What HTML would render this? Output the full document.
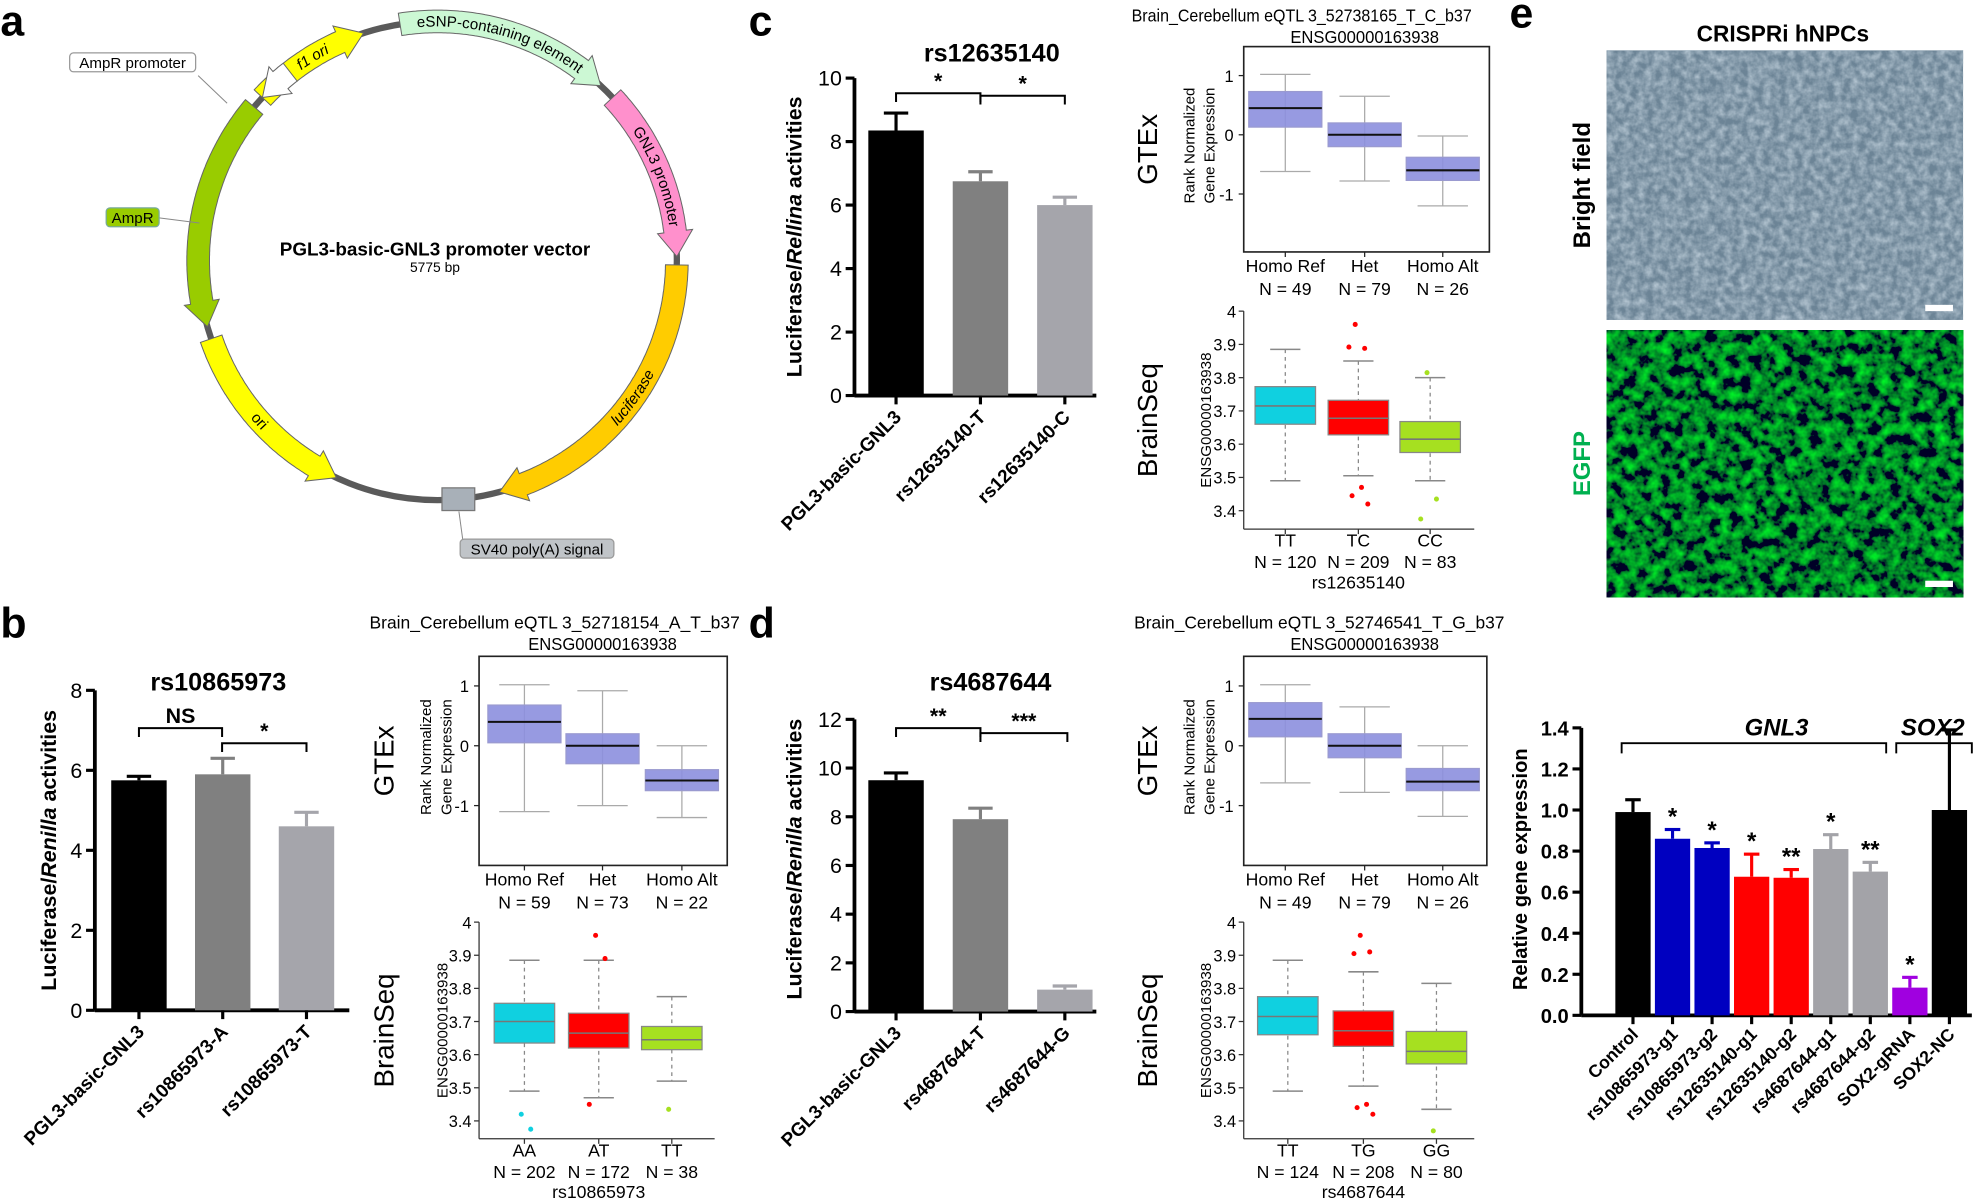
<!DOCTYPE html>
<html><head><meta charset="utf-8">
<style>
html,body{margin:0;padding:0;background:#fff;}
svg{display:block;font-family:"Liberation Sans",sans-serif;}
</style></head>
<body>
<svg id="fig" xmlns="http://www.w3.org/2000/svg" width="1976" height="1198" viewBox="0 0 1568 951">
<defs>
<filter id="bf" x="0" y="0" width="100%" height="100%">
<feTurbulence type="fractalNoise" baseFrequency="0.16" numOctaves="3" seed="3"/>
<feColorMatrix type="matrix" values="0 0 0 0 0.45  0 0 0 0 0.55  0 0 0 0 0.63  1.6 0 0 0 -0.45"/>
</filter>
<filter id="gf" x="0" y="0" width="100%" height="100%">
<feTurbulence type="fractalNoise" baseFrequency="0.11" numOctaves="3" seed="7"/>
<feColorMatrix type="matrix" values="0 0 0 0 0.0  1.7 0 0 0 -0.62  0 0 0 0 0.02  0 0 0 0 1"/>
</filter>
</defs>
<g id="root"></g>
</svg>
<script>
// ---------- data ----------
const cCats=["PGL3-basic-GNL3","rs12635140-T","rs12635140-C"];
const cVals=[8.35,6.75,6.0];
const cErrs=[0.55,0.3,0.25];
const cTicks=[0,2,4,6,8,10];
const bCats=["PGL3-basic-GNL3","rs10865973-A","rs10865973-T"];
const bVals=[5.75,5.9,4.6];
const bErrs=[0.1,0.4,0.35];
const bTicks=[0,2,4,6,8];
const dCats=["PGL3-basic-GNL3","rs4687644-T","rs4687644-G"];
const dVals=[9.5,7.9,0.9];
const dErrs=[0.3,0.45,0.15];
const dTicks=[0,2,4,6,8,10,12];
const eCats=["Control","rs10865973-g1","rs10865973-g2","rs12635140-g1","rs12635140-g2","rs4687644-g1","rs4687644-g2","SOX2-gRNA","SOX2-NC"];
const eVals=[0.99,0.86,0.815,0.675,0.67,0.81,0.70,0.135,1.0];
const eErrs=[0.06,0.045,0.025,0.11,0.04,0.07,0.045,0.05,0.39];
const eStars=["","*","*","*","**","*","**","*",""];
const eTicks=[0,0.2,0.4,0.6,0.8,1.0,1.2,1.4];
const gtexTicks=[1,0,-1];
const cGtexMed=[0.45,0,-0.6], cGtexQ1=[0.13,-0.2,-0.77], cGtexQ3=[0.73,0.2,-0.38], cGtexLo=[-0.62,-0.78,-1.2], cGtexHi=[1.02,0.65,-0.02];
const bGtexMed=[0.4,0,-0.58], bGtexQ1=[0.05,-0.3,-0.75], bGtexQ3=[0.68,0.2,-0.4], bGtexLo=[-1.1,-1.0,-1.2], bGtexHi=[1.02,0.92,0.0];
const dGtexMed=[0.45,0,-0.6], dGtexQ1=[0.15,-0.2,-0.75], dGtexQ3=[0.72,0.2,-0.38], dGtexLo=[-0.62,-0.78,-1.18], dGtexHi=[1.02,0.65,0.0];
const gtexCats=["Homo Ref","Het","Homo Alt"];
const cGtexN=["N = 49","N = 79","N = 26"], bGtexN=["N = 59","N = 73","N = 22"], dGtexN=["N = 49","N = 79","N = 26"];
const bsTicks=[3.4,3.5,3.6,3.7,3.8,3.9,4.0];
const cBsCats=["TT","TC","CC"], cBsN=["N = 120","N = 209","N = 83"];
const cBsMed=[3.715,3.678,3.615], cBsQ1=[3.66,3.628,3.575], cBsQ3=[3.773,3.732,3.668], cBsLo=[3.49,3.505,3.49], cBsHi=[3.885,3.85,3.80];
const cBsOut=[[],[3.96,3.888,3.892,3.47,3.445,3.42],[3.815,3.435,3.375]];
const bBsCats=["AA","AT","TT"], bBsN=["N = 202","N = 172","N = 38"];
const bBsMed=[3.70,3.665,3.645], bBsQ1=[3.635,3.62,3.615], bBsQ3=[3.755,3.725,3.685], bBsLo=[3.49,3.47,3.52], bBsHi=[3.885,3.885,3.775];
const bBsOut=[[3.42,3.375],[3.96,3.89,3.45],[3.435]];
const dBsCats=["TT","TG","GG"], dBsN=["N = 124","N = 208","N = 80"];
const dBsMed=[3.715,3.672,3.61], dBsQ1=[3.66,3.625,3.572], dBsQ3=[3.775,3.732,3.67], dBsLo=[3.49,3.505,3.435], dBsHi=[3.885,3.85,3.815];
const dBsOut=[[],[3.96,3.91,3.905,3.45,3.44,3.42],[3.37]];

// ---------- helpers ----------
const NS="http://www.w3.org/2000/svg";
const root=document.getElementById('root');
function mk(tag,attrs,name,parent,inter){
  const e=document.createElementNS(NS,tag);
  for(const k in attrs) e.setAttribute(k,attrs[k]);
  
  
  (parent||root).appendChild(e);
  return e;
}
function txt(x,y,s,size,name,opt,parent){
  opt=opt||{};
  const t=mk('text',{x:x,y:y,'font-size':size,'text-anchor':opt.anchor||'middle',fill:opt.fill||'#000','font-weight':opt.bold?'bold':'normal','font-style':opt.italic?'italic':'normal'},name,parent);
  if(opt.rot!==undefined) t.setAttribute('transform','rotate('+opt.rot+' '+x+' '+y+')');
  if(opt.len) {t.setAttribute('textLength',opt.len);t.setAttribute('lengthAdjust','spacingAndGlyphs');}
  t.textContent=s;return t;
}
function line(x1,y1,x2,y2,w,c,name,parent){return mk('line',{x1:x1,y1:y1,x2:x2,y2:y2,stroke:c||'#000','stroke-width':w},name,parent);}

// ---------- panel letters ----------
[['a',0,28],['b',0,506],['c',594,28],['d',594,506],['e',1198,22]].forEach(p=>{
  txt(p[1],p[2],p[0],34,'panel-label-'+p[0],{anchor:'start',bold:true});
});

// ---------- bar chart ----------
function barChart(o){
  const g=mk('g',{},o.name);
  const y=v=>o.y0-v*o.ppu;
  const top=y(o.ticks[o.ticks.length-1]);
  line(o.ax,top,o.ax,o.y0,3,'#000','y-axis',g);
  line(o.ax,o.y0,o.xend,o.y0,3,'#000','x-axis',g);
  o.ticks.forEach(t=>{
    line(o.ax-7,y(t),o.ax,y(t),2.5,'#000','y-tick',g);
    txt(o.ax-10,y(t)+6,o.fmt?o.fmt(t):String(t),o.tfs||17,'y-tick-label',{anchor:'end',bold:o.boldTicks},g);
  });
  o.vals.forEach((v,i)=>{
    const cx=o.c0+i*o.sp;
    mk('rect',{x:cx-o.bw/2,y:y(v),width:o.bw,height:o.y0-y(v),fill:o.colors[i]},'bar-'+o.cats[i],g,true);
    const ey=y(v+o.errs[i]);
    line(cx,ey,cx,y(v),2.5,o.colors[i],'error-bar',g);
    line(cx-o.bw*0.22,ey,cx+o.bw*0.22,ey,2.5,o.colors[i],'error-cap',g);
    line(cx,o.y0,cx,o.y0+7,2.5,'#000','x-tick',g);
    txt(cx+5,o.y0+(o.lo||18),o.cats[i],o.cfs||15,'x-tick-label',{anchor:'end',bold:true,rot:-45},g);
    if(o.stars&&o.stars[i]) txt(cx,ey-4,o.stars[i],19,'significance-star',{bold:true},g);
  });
  if(o.title) txt(o.title[0],o.title[1],o.title[2],20,'chart-title',{bold:true},g);
  return {g:g,y:y};
}
function bracket(g,x1,x2,yy,label,name){
  mk('polyline',{points:`${x1},${yy+7} ${x1},${yy} ${x2},${yy} ${x2},${yy+7}`,fill:'none',stroke:'#000','stroke-width':1.6},name,g);
  txt((x1+x2)/2,yy-4,label,17,name+'-label',{bold:true},g);
}
function ylab(x,yc,parts,name,size){
  const t=mk('text',{x:x,y:yc,'font-size':size||17,'text-anchor':'middle','font-weight':'bold',transform:`rotate(-90 ${x} ${yc})`},name);
  parts.forEach(p=>{const s=document.createElementNS(NS,'tspan');if(p[1])s.setAttribute('font-style','italic');s.textContent=p[0];t.appendChild(s);});
}
const barCols=['#000','#808080','#a5a5ab'];

// panel c
const pc=barChart({name:'panel-c-bar-chart',ax:678,y0:314,ppu:25.2,xend:870,ticks:cTicks,cats:cCats,vals:cVals,errs:cErrs,colors:barCols,c0:711,sp:67,bw:44,title:[787,49,'rs12635140']});
bracket(pc.g,711,778,74,'*','bracket-c-1');
bracket(pc.g,778,845,76,'*','bracket-c-2');
ylab(636,188,[['Luciferase/'],['Rellina',1],[' activities']],'y-axis-title-c');
// panel b
const pb=barChart({name:'panel-b-bar-chart',ax:75,y0:802,ppu:31.75,xend:277,ticks:bTicks,cats:bCats,vals:bVals,errs:bErrs,colors:barCols,c0:110,sp:66.5,bw:44,title:[173,548,'rs10865973']});
bracket(pb.g,110,176,578,'NS','bracket-b-1');
bracket(pb.g,176,243,590,'*','bracket-b-2');
ylab(44,675,[['Luciferase/'],['Renilla',1],[' activities']],'y-axis-title-b');
// panel d
const pd=barChart({name:'panel-d-bar-chart',ax:678,y0:803,ppu:19.33,xend:870,ticks:dTicks,cats:dCats,vals:dVals,errs:dErrs,colors:barCols,c0:711,sp:67,bw:44,title:[786,548,'rs4687644']});
bracket(pd.g,711,778,578,'**','bracket-d-1');
bracket(pd.g,778,847,582,'***','bracket-d-2');
ylab(636,682,[['Luciferase/'],['Renilla',1],[' activities']],'y-axis-title-d');
// panel e
const eCols=['#000','#0000c0','#0000c0','#ff0000','#ff0000','#a3a3a8','#a3a3a8','#a000e0','#000'];
const pe=barChart({name:'panel-e-bar-chart',ax:1255,y0:806,ppu:163,xend:1565,ticks:eTicks,cats:eCats,vals:eVals,errs:eErrs,colors:eCols,c0:1296,sp:31.4,bw:28,stars:eStars,fmt:t=>t.toFixed(1),tfs:16,boldTicks:true,cfs:14,lo:16});
ylab(1212,690,[['Relative gene expression']],'y-axis-title-e',16);
mk('polyline',{points:'1287,598 1287,590 1497,590 1497,598',fill:'none',stroke:'#000','stroke-width':1.5},'gnl3-bracket');
mk('polyline',{points:'1505,598 1505,590 1565,590 1565,598',fill:'none',stroke:'#000','stroke-width':1.5},'sox2-bracket');
txt(1410,584,'GNL3',19,'gnl3-group-label',{bold:true,italic:true});
txt(1534,584,'SOX2',19,'sox2-group-label',{bold:true,italic:true});

// ---------- GTEx box plot ----------
function gtex(o){
  const g=mk('g',{},o.name);
  const y=v=>o.y0-v*o.ppu;
  txt(o.tx,o.ty,o.title,14,'gtex-title',{len:o.tlen},g);
  txt(o.tx2,o.ty+17,'ENSG00000163938',14,'gtex-gene-id',{len:118},g);
  mk('rect',{x:o.x1,y:o.top,width:o.x2-o.x1,height:o.bot-o.top,fill:'none',stroke:'#222','stroke-width':1.3},'gtex-frame',g);
  gtexTicks.forEach(t=>{line(o.x1-4,y(t),o.x1,y(t),1,'#222','y-tick',g);txt(o.x1-8,y(t)+5,String(t),13,'y-tick-label',{anchor:'end'},g);});
  o.med.forEach((m,i)=>{
    const cx=o.c[i];
    line(cx,y(o.hi[i]),cx,y(o.lo[i]),1,'#aaa','whisker',g);
    line(cx-20,y(o.hi[i]),cx+20,y(o.hi[i]),1,'#aaa','whisker-cap',g);
    line(cx-20,y(o.lo[i]),cx+20,y(o.lo[i]),1,'#aaa','whisker-cap',g);
    mk('rect',{x:cx-29,y:y(o.q3[i]),width:58,height:y(o.q1[i])-y(o.q3[i]),fill:'#8c8fde','fill-opacity':0.9,stroke:'#9a9ad0'},'gtex-box-'+gtexCats[i],g,true);
    line(cx-29,y(m),cx+29,y(m),1.6,'#111','median-line',g);
    line(cx,o.bot,cx,o.bot+4,1,'#222','x-tick',g);
    txt(cx,o.bot+16,gtexCats[i],14,'x-tick-label',{},g);
    txt(cx,o.bot+34,o.n[i],14,'sample-size',{},g);
  });
  txt(o.gx,(o.top+o.bot)/2,'GTEx',22,'gtex-label',{rot:-90},g);
  txt(o.gx+30,(o.top+o.bot)/2-3,'Rank Normalized',12,'y-axis-title-line1',{rot:-90},g);
  txt(o.gx+46,(o.top+o.bot)/2-3,'Gene Expression',12,'y-axis-title-line2',{rot:-90},g);
}
gtex({name:'panel-c-gtex',tx:1033,tx2:1083,ty:17,tlen:270,title:'Brain_Cerebellum eQTL 3_52738165_T_C_b37',x1:987,x2:1182,top:37,bot:200,y0:107,ppu:47,c:[1020,1083,1145],med:cGtexMed,q1:cGtexQ1,q3:cGtexQ3,lo:cGtexLo,hi:cGtexHi,n:cGtexN,gx:918});
gtex({name:'panel-b-gtex',tx:440,tx2:478,ty:499,tlen:294,title:'Brain_Cerebellum eQTL 3_52718154_A_T_b37',x1:380,x2:577,top:521,bot:687,y0:592,ppu:47.5,c:[416,478,541],med:bGtexMed,q1:bGtexQ1,q3:bGtexQ3,lo:bGtexLo,hi:bGtexHi,n:bGtexN,gx:312});
gtex({name:'panel-d-gtex',tx:1047,tx2:1083,ty:499,tlen:294,title:'Brain_Cerebellum eQTL 3_52746541_T_G_b37',x1:987,x2:1180,top:521,bot:687,y0:592,ppu:47.5,c:[1020,1083,1145],med:dGtexMed,q1:dGtexQ1,q3:dGtexQ3,lo:dGtexLo,hi:dGtexHi,n:dGtexN,gx:918});

// ---------- BrainSeq box plot ----------
function brainseq(o){
  const g=mk('g',{},o.name);
  const y=v=>o.y4+(4-v)*o.ppu;
  line(o.x1,y(4),o.x1,o.bot,1,'#333','y-axis',g);
  line(o.x1,o.bot,o.x2,o.bot,1,'#333','x-axis',g);
  bsTicks.forEach(t=>{line(o.x1-4,y(t),o.x1,y(t),1,'#333','y-tick',g);txt(o.x1-6,y(t)+5,t===4?'4':t.toFixed(1),13,'y-tick-label',{anchor:'end'},g);});
  o.med.forEach((m,i)=>{
    const cx=o.c[i];
    mk('line',{x1:cx,y1:y(o.hi[i]),x2:cx,y2:y(o.lo[i]),stroke:'#888','stroke-dasharray':'3,3'},'whisker',g);
    line(cx-12,y(o.hi[i]),cx+12,y(o.hi[i]),1.2,'#888','whisker-cap',g);
    line(cx-12,y(o.lo[i]),cx+12,y(o.lo[i]),1.2,'#888','whisker-cap',g);
    mk('rect',{x:cx-24,y:y(o.q3[i]),width:48,height:y(o.q1[i])-y(o.q3[i]),fill:o.cols[i],stroke:'#888','stroke-width':1},'brainseq-box-'+o.cats[i],g,true);
    line(cx-24,y(m),cx+24,y(m),1.2,'#777','median-line',g);
    o.out[i].forEach((v,j)=>mk('circle',{cx:cx+(j%2?5:-5)*(j%3+1)/2,cy:y(v),r:2,fill:o.cols[i]},'outlier-point',g));
    line(cx,o.bot,cx,o.bot+4,1,'#333','x-tick',g);
    txt(cx,o.bot+14,o.cats[i],14,'x-tick-label',{},g);
    txt(cx,o.bot+31,o.n[i],14,'sample-size',{},g);
  });
  txt(o.c[1],o.bot+47,o.snp,14,'x-axis-title',{},g);
  txt(o.gx,(y(4)+o.bot)/2,'BrainSeq',22,'brainseq-label',{rot:-90},g);
  txt(o.gx+43,(y(4)+o.bot)/2,'ENSG00000163938',12,'y-axis-title',{rot:-90},g);
}
const bsCols=['#10d0e0','#ff0000','#a6e020'];
brainseq({name:'panel-c-brainseq',x1:987,x2:1170,y4:247,ppu:264,bot:420,c:[1020,1078,1135],cats:cBsCats,n:cBsN,snp:'rs12635140',med:cBsMed,q1:cBsQ1,q3:cBsQ3,lo:cBsLo,hi:cBsHi,out:cBsOut,cols:bsCols,gx:918});
brainseq({name:'panel-b-brainseq',x1:380,x2:567,y4:732,ppu:263,bot:904,c:[416,475,533],cats:bBsCats,n:bBsN,snp:'rs10865973',med:bBsMed,q1:bBsQ1,q3:bBsQ3,lo:bBsLo,hi:bBsHi,out:bBsOut,cols:bsCols,gx:312});
brainseq({name:'panel-d-brainseq',x1:987,x2:1170,y4:732,ppu:263,bot:904,c:[1022,1082,1140],cats:dBsCats,n:dBsN,snp:'rs4687644',med:dBsMed,q1:dBsQ1,q3:dBsQ3,lo:dBsLo,hi:dBsHi,out:dBsOut,cols:bsCols,gx:918});

// ---------- panel a plasmid map ----------
const pa=mk('g',{},'panel-a-plasmid-map');
const CX=347,CY=207,R=190;
function pt(a,r){const t=a*Math.PI/180;return [CX+r*Math.sin(t),CY-r*Math.cos(t)];}
mk('circle',{cx:CX,cy:CY,r:R,fill:'none',stroke:'#5a5a5a','stroke-width':5},'backbone',pa);
function feature(a1,a2,col,name){
  const dir=a2>a1?1:-1, head=6*dir, w=9, hw=14;
  const pts=[];
  for(let a=a1;dir>0?a<=a2-head:a>=a2-head;a+=dir*0.5) pts.push(pt(a,R+w));
  pts.push(pt(a2-head,R+hw));pts.push(pt(a2,R));pts.push(pt(a2-head,R-hw));
  for(let a=a2-head;dir>0?a>=a1:a<=a1;a-=dir*0.5) pts.push(pt(a,R-w));
  mk('polygon',{points:pts.map(p=>p[0].toFixed(1)+','+p[1].toFixed(1)).join(' '),fill:col,stroke:'#666','stroke-width':0.8},name,pa,true);
}
feature(-47,-18,'#ffff00','f1-ori');
feature(-9,43,'#ccf8d4','esnp-element');
feature(47,89,'#ff90cc','gnl3-promoter');
feature(91,165,'#ffcc00','luciferase');
feature(251,205,'#ffff00','ori');
feature(310,254,'#99cc00','ampr');
feature(322,313,'#ffffff','ampr-promoter');
const sv=pt(175,R);
mk('rect',{x:sv[0]-13,y:sv[1]-9,width:26,height:18,fill:'#a8b0b8',stroke:'#777'},'sv40-box',pa);
function arcText(a1,a2,r,s,name,size,style){
  const id='ap'+name;const p1=pt(a1,r),p2=pt(a2,r);
  const sweep=a2>a1?1:0;
  mk('path',{id:id,d:`M${p1[0]},${p1[1]} A${r},${r} 0 0 ${sweep} ${p2[0]},${p2[1]}`,fill:'none'},name+'-path',pa);
  const t=mk('text',{'font-size':size||12,'font-style':style||'normal'},name,pa);
  const tp=document.createElementNS(NS,'textPath');tp.setAttribute('href','#'+id);tp.setAttribute('startOffset','50%');tp.setAttribute('text-anchor','middle');tp.textContent=s;t.appendChild(tp);
}
arcText(-47,-16,R-4,'f1 ori','f1-ori-label',12,'italic');
arcText(-12,44,R-4,'eSNP-containing element','esnp-label',12);
arcText(46,92,R-4,'GNL3 promoter','gnl3-promoter-label',12);
arcText(150,100,R+4,'luciferase','luciferase-label',12,'italic');
arcText(238,218,R+4,'ori','ori-label',12);
line(180,82,157,60,0.8,'#888','ampr-promoter-leader',pa);
mk('rect',{x:55,y:42,width:100,height:15,rx:3,fill:'#fff',stroke:'#999'},'ampr-promoter-box',pa);
txt(105,54,'AmpR promoter',12,'ampr-promoter-label',{},pa);
line(126,173,158,177,0.8,'#888','ampr-leader',pa);
mk('rect',{x:84,y:165,width:42,height:15,rx:3,fill:'#99cc00',stroke:'#7a9'},'ampr-box',pa);
txt(105,177,'AmpR',12,'ampr-label',{},pa);
line(364,406,367,428,0.8,'#888','sv40-leader',pa);
mk('rect',{x:365,y:428,width:122,height:15,rx:3,fill:'#c0c4c8',stroke:'#999'},'sv40-label-box',pa);
txt(426,440,'SV40 poly(A) signal',12,'sv40-label',{},pa);
txt(345,203,'PGL3-basic-GNL3 promoter vector',15,'plasmid-name',{bold:true},pa);
txt(345,216,'5775 bp',11,'plasmid-size',{},pa);

// ---------- panel e images ----------
const pi=mk('g',{},'panel-e-images');
txt(1415,33,'CRISPRi hNPCs',18,'images-title',{bold:true},pi);
mk('rect',{x:1275,y:40,width:283,height:214,fill:'#6c8496'},'brightfield-bg',pi);
mk('rect',{x:1275,y:40,width:283,height:214,filter:'url(#bf)'},'brightfield-image',pi);
mk('rect',{x:1528,y:242,width:22,height:5,fill:'#fff'},'scale-bar-1',pi);
mk('rect',{x:1275,y:262,width:283,height:212,fill:'#042a04'},'egfp-bg',pi);
mk('rect',{x:1275,y:262,width:283,height:212,filter:'url(#gf)'},'egfp-image',pi);
mk('rect',{x:1528,y:461,width:22,height:5,fill:'#fff'},'scale-bar-2',pi);
txt(1262,147,'Bright field',19,'brightfield-label',{bold:true,rot:-90},pi);
txt(1262,368,'EGFP',19,'egfp-label',{bold:true,rot:-90,fill:'#00b050'},pi);
</script>
</body></html>
